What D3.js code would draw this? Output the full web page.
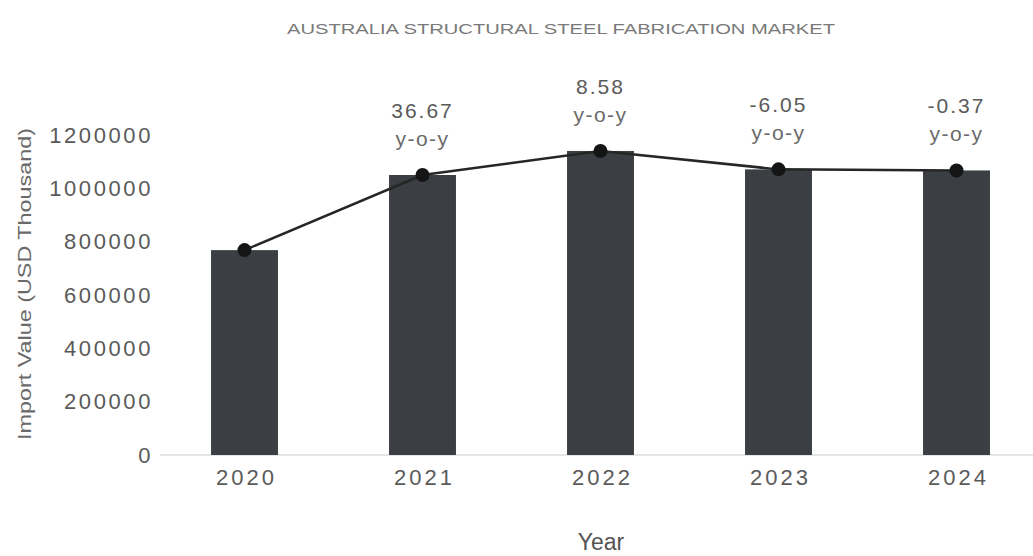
<!DOCTYPE html>
<html>
<head>
<meta charset="utf-8">
<script src="https://cdn.jsdelivr.net/npm/d3@7"></script>
<style>
  html, body { margin: 0; padding: 0; background: #fff; }
  svg { display: block; font-family: "Liberation Sans", Arial, sans-serif; }
</style>
</head>
<body>
<div id="chart"></div>
<script>
var years = ["2020", "2021", "2022", "2023", "2024"];
var importValues = [768300, 1050000, 1140100, 1071100, 1067100];
var yoyLabels = [null, "36.67", "8.58", "-6.05", "-0.37"];
var yTicks = [0, 200000, 400000, 600000, 800000, 1000000, 1200000];

var width = 1033, height = 556;

var data = years.map((y, i) => ({year: y, value: importValues[i], yoy: yoyLabels[i]}));

var svg = d3.select("#chart").append("svg")
  .attr("width", width)
  .attr("height", height);

var x = d3.scaleBand()
  .domain(years)
  .range([155.5, 1045.5])
  .paddingInner(0.624)
  .paddingOuter(0.312);

var y = d3.scaleLinear()
  .domain([0, 1200000])
  .range([455, 135]);

// title
svg.append("text")
  .attr("x", 561)
  .attr("y", 34)
  .attr("text-anchor", "middle")
  .attr("textLength", 548)
  .attr("lengthAdjust", "spacingAndGlyphs")
  .style("font-size", "15px")
  .style("fill", "#7a7a7a")
  .text("AUSTRALIA STRUCTURAL STEEL FABRICATION MARKET");

// baseline
svg.append("line")
  .attr("x1", 160).attr("x2", width)
  .attr("y1", y(0)).attr("y2", y(0))
  .style("stroke", "#dcdcdc")
  .style("stroke-width", 1.5);

// y axis
var yAxis = d3.axisLeft(y)
  .tickValues(yTicks)
  .tickSize(0)
  .tickPadding(0)
  .tickFormat(d3.format("d"));

svg.append("g")
  .attr("transform", "translate(153,0)")
  .call(yAxis)
  .call(g => g.select(".domain").remove())
  .selectAll("text")
    .style("font-family", "Liberation Sans, Arial, sans-serif")
    .style("font-size", "22px")
    .style("letter-spacing", "2.6px")
    .style("fill", "#5a5a5a");

svg.append("text")
  .attr("transform", "rotate(-90)")
  .attr("x", -284)
  .attr("y", 31)
  .attr("text-anchor", "middle")
  .attr("textLength", 312)
  .attr("lengthAdjust", "spacingAndGlyphs")
  .style("font-size", "18px")
  .style("fill", "#6a6a6a")
  .text("Import Value (USD Thousand)");

// x axis
var xAxis = d3.axisBottom(x)
  .tickSize(0)
  .tickPadding(0);

svg.append("g")
  .attr("transform", `translate(2,${y(0) + 10})`)
  .call(xAxis)
  .call(g => g.select(".domain").remove())
  .selectAll("text")
    .attr("dy", "0.9em")
    .style("font-family", "Liberation Sans, Arial, sans-serif")
    .style("font-size", "22px")
    .style("letter-spacing", "3px")
    .style("fill", "#5a5a5a");

svg.append("text")
  .attr("x", 601)
  .attr("y", 550)
  .attr("text-anchor", "middle")
  .style("font-size", "23px")
  .style("fill", "#555")
  .text("Year");

// bars
svg.append("g").selectAll("rect")
  .data(data)
  .enter().append("rect")
    .attr("x", d => x(d.year))
    .attr("y", d => y(d.value))
    .attr("width", x.bandwidth())
    .attr("height", d => y(0) - y(d.value))
    .style("fill", "#3b3e42");

// line
var line = d3.line()
  .x(d => x(d.year) + x.bandwidth() / 2)
  .y(d => y(d.value));

svg.append("path")
  .datum(data)
  .attr("d", line)
  .style("fill", "none")
  .style("stroke", "#262626")
  .style("stroke-width", 2.5);

svg.append("g").selectAll("circle")
  .data(data)
  .enter().append("circle")
    .attr("cx", d => x(d.year) + x.bandwidth() / 2)
    .attr("cy", d => y(d.value))
    .attr("r", 7)
    .style("fill", "#151515");

// y-o-y annotations
var notes = svg.append("g").selectAll("g")
  .data(data.filter(d => d.yoy !== null))
  .enter().append("g")
    .attr("transform", d => `translate(${x(d.year) + x.bandwidth() / 2},${y(d.value)})`);

notes.append("text")
  .attr("y", -57)
  .attr("text-anchor", "middle")
  .style("font-size", "21px")
  .style("letter-spacing", "2px")
  .style("fill", "#5a5a5a")
  .text(d => d.yoy);

notes.append("text")
  .attr("y", -29)
  .attr("text-anchor", "middle")
  .style("font-size", "21px")
  .style("letter-spacing", "1.5px")
  .style("fill", "#6a6a6a")
  .text("y-o-y");
</script>
</body>
</html>
